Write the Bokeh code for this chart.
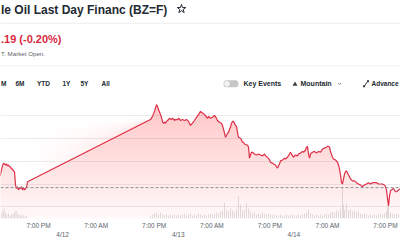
import numpy as np
from bokeh.plotting import figure
from bokeh.models import Range1d, LinearAxis, FixedTicker, Span, Label, Grid
from bokeh.embed import file_html
from bokeh.resources import INLINE

# ---- data (hours since 4/11 00:00) ----
fri_hours = [11.00, 11.32, 11.53, 11.74, 11.95, 12.15, 12.36, 12.57, 12.78, 12.98, 13.19, 13.40, 13.61, 13.81,
             14.02, 14.23, 14.43, 14.64, 14.85, 15.06, 15.27, 15.47, 15.68, 15.89, 16.10, 16.30, 16.51, 16.72]
fri_price = [90.67, 90.81, 90.90, 90.96, 90.94, 90.92, 90.94, 90.90, 90.92, 90.88, 90.88, 90.83, 90.83, 90.79,
             90.77, 90.48, 90.40, 90.44, 90.37, 90.42, 90.40, 90.44, 90.37, 90.42, 90.37, 90.40, 90.42, 90.55]

sun_hours = [42.24, 42.66, 43.07, 43.49, 43.69, 43.90, 44.32, 44.52, 44.73, 44.94, 45.15, 45.35, 45.56, 45.77,
             45.98, 46.18, 46.60, 46.81, 47.22, 47.43, 47.84, 48.05, 48.47, 48.88, 49.30, 49.71, 50.13, 50.33,
             50.54, 50.96, 51.37, 51.79, 52.20, 52.62, 52.83, 53.24, 53.65, 53.86, 54.07, 54.28, 54.69, 55.11,
             55.52, 55.73, 56.14, 56.56, 56.97, 57.18, 57.60, 57.81, 58.01, 58.22, 58.43, 58.64, 58.84, 59.05,
             59.26, 59.46, 59.67, 59.88, 60.09, 60.29, 60.50, 60.92, 61.12, 61.33, 61.54, 61.75, 62.16, 62.37,
             62.58, 62.78, 62.99, 63.20, 63.41, 63.82, 64.24, 64.65, 65.07, 65.48, 65.90, 66.11, 66.52, 66.94,
             67.14, 67.56, 67.77, 68.18, 68.39, 68.60, 68.80, 69.01, 69.22, 69.63, 70.05, 70.26, 70.67, 71.09,
             71.29, 71.50, 71.92, 72.33, 72.75, 72.95, 73.37, 73.78, 73.99, 74.41, 74.61, 74.82, 75.03, 75.24,
             75.44, 75.86, 76.27, 76.69, 77.10, 77.52, 77.93, 78.35, 78.76, 78.97, 79.18, 79.39, 79.59, 80.01,
             80.22, 80.63, 81.05, 81.25, 81.46, 81.67, 81.88, 82.08, 82.29, 82.50, 82.71, 82.91, 83.12, 83.33,
             83.54, 83.74, 84.16, 84.57, 84.99, 85.40, 85.82, 86.23, 86.65, 87.06, 87.48, 87.89, 88.31, 88.72,
             89.14, 89.55, 89.97, 90.38, 90.80, 91.01, 91.21, 91.42, 91.63, 91.84, 92.04, 92.25, 92.67, 93.08,
             93.29, 93.70, 94.12]
sun_price = [91.92, 91.99, 92.10, 92.25, 92.21, 92.14, 92.03, 91.97, 91.88, 91.84, 91.86, 91.84, 91.88, 91.90,
             91.92, 91.95, 91.92, 91.95, 91.90, 91.92, 91.92, 91.95, 91.90, 91.92, 91.90, 91.92, 91.88, 91.84,
             91.79, 91.84, 91.90, 91.97, 92.03, 92.10, 92.08, 92.05, 92.01, 91.97, 91.95, 91.99, 91.95, 91.97,
             92.01, 91.99, 91.90, 91.86, 91.84, 91.79, 91.62, 91.53, 91.57, 91.62, 91.64, 91.71, 91.75, 91.84,
             91.88, 91.88, 91.84, 91.79, 91.77, 91.64, 91.53, 91.51, 91.47, 91.42, 91.42, 91.38, 91.36, 91.36,
             91.31, 91.07, 91.14, 91.20, 91.20, 91.16, 91.14, 91.16, 91.14, 91.12, 91.16, 91.12, 91.09, 91.03,
             90.98, 90.96, 90.94, 90.92, 90.88, 90.85, 90.90, 90.94, 91.01, 91.03, 91.07, 91.05, 91.09, 91.16,
             91.20, 91.16, 91.09, 91.14, 91.12, 91.16, 91.18, 91.22, 91.20, 91.25, 91.31, 91.33, 91.16, 91.07,
             91.16, 91.20, 91.22, 91.18, 91.22, 91.20, 91.27, 91.29, 91.31, 91.33, 91.33, 91.31, 91.22, 91.09,
             91.05, 91.03, 90.98, 90.92, 90.83, 90.70, 90.53, 90.50, 90.61, 90.72, 90.77, 90.79, 90.74, 90.70,
             90.66, 90.61, 90.57, 90.57, 90.53, 90.50, 90.48, 90.44, 90.48, 90.50, 90.53, 90.50, 90.53, 90.53,
             90.53, 90.50, 90.50, 90.50, 90.48, 90.44, 90.37, 90.18, 90.02, 90.24, 90.35, 90.37, 90.40, 90.33,
             90.33, 90.37, 90.40]

vol_hours = [11.32, 11.63, 11.84, 12.15, 12.46, 12.78, 13.09, 13.40, 13.71, 14.02, 14.33, 14.64, 14.95, 15.27,
             15.58, 15.89, 16.20, 16.51,
             42.24, 42.66, 43.07, 43.49, 43.90, 44.32, 44.73, 45.15, 45.56, 45.98, 46.39, 46.81, 47.22, 47.64,
             48.05, 48.47, 48.88, 49.30, 49.71, 50.13, 50.54, 50.96, 51.37, 51.79, 52.20, 52.62, 53.03, 53.45,
             53.86, 54.28, 54.69, 55.11, 55.52, 55.94, 56.35, 56.76, 57.18, 57.60, 58.01, 58.43, 58.84, 59.26,
             59.67, 60.09, 60.50, 60.92, 61.33, 61.75, 62.16, 62.58, 62.99, 63.41, 63.82, 64.24, 64.65, 65.07,
             65.48, 65.90, 66.31, 66.73, 67.14, 67.56, 67.97, 68.39, 68.80, 69.22, 69.63, 70.05, 70.46, 70.88,
             71.29, 71.71, 72.12, 72.54, 72.95, 73.37, 73.78, 74.20, 74.61, 75.03, 75.44, 75.86, 76.27, 76.69,
             77.10, 77.52, 77.93, 78.35, 78.76, 79.18, 79.59, 80.01, 80.42, 80.84, 81.25, 81.67, 82.08, 82.29,
             82.50, 82.91, 83.33, 83.74, 84.16, 84.57, 84.99, 85.40, 85.82, 86.23, 86.65, 87.06, 87.48, 87.89,
             88.31, 88.72, 89.14, 89.55, 89.97, 90.38, 90.80, 91.21, 91.42, 91.63, 92.04, 92.46, 92.87, 93.29,
             93.70, 94.12]
vol_values = [100, 160, 200, 120, 80, 100, 60, 80, 100, 120, 160, 100, 80, 60,
              80, 60, 40, 60,
              60, 80, 100, 120, 80, 120, 80, 60, 80, 60, 80, 60, 80, 60,
              80, 60, 80, 100, 60, 80, 100, 60, 80, 60, 100, 80, 60, 80,
              60, 80, 100, 80, 100, 120, 100, 140, 160, 320, 180, 140, 200, 160,
              140, 180, 440, 280, 160, 180, 320, 200, 140, 100, 120, 80, 100, 80,
              120, 100, 80, 100, 80, 60, 80, 60, 60, 80, 60, 60, 80, 60,
              60, 80, 60, 60, 80, 60, 80, 100, 120, 180, 100, 80, 60, 80,
              60, 80, 60, 80, 100, 80, 120, 140, 120, 160, 140, 200, 640, 280,
              180, 300, 160, 180, 140, 160, 120, 140, 100, 80, 100, 80, 60, 80,
              60, 80, 60, 80, 100, 80, 100, 140, 240, 360, 120, 100, 80, 100,
              80, 60]

prev_close = 90.42
grid_prices = [90.0, 90.5, 91.0, 91.5, 92.0]
time_ticks = [19, 31, 43, 55, 67, 79, 91]
time_labels = ["7:00 PM", "7:00 AM", "7:00 PM", "7:00 AM", "7:00 PM", "7:00 AM", "7:00 PM"]
date_ticks = [24, 48, 72]
date_labels = ["4/12", "4/13", "4/14"]

title_text = "le Oil Last Day Financ (BZ=F)"
price_text = ".19 (-0.20%)"
status_text = "T. Market Open."
range_buttons = ["M", "6M", "YTD", "1Y", "5Y", "All"]

# ---- styling / layout ----
W, H = 400, 240
FRAME_H = 220
PX_PER_UNIT = 45.8
Y_HI = 92.0 + 116.5 / PX_PER_UNIT
Y_LO = Y_HI - FRAME_H / PX_PER_UNIT
RED = "#dc2f47"
FONT = "Liberation Sans"
DARK = "#232a31"
GRAY = "#5b636a"

hours = np.array(fri_hours + sun_hours)
price = np.array(fri_price + sun_price)

p = figure(width=W, height=H, output_backend="svg", toolbar_location=None,
           x_range=Range1d(11.115, 94.12), y_range=Range1d(Y_LO, Y_HI),
           x_axis_type=None, y_axis_type=None, min_border=0,
           outline_line_color=None, background_fill_color="white")
p.extra_x_ranges = {"px": Range1d(0, W)}
p.extra_y_ranges = {"px": Range1d(FRAME_H, 0), "vol": Range1d(0, 20 * FRAME_H)}

p.add_layout(Grid(dimension=1, ticker=FixedTicker(ticks=grid_prices),
                  grid_line_color="#ececec", grid_line_width=1))

# volume
p.vbar(x=vol_hours, top=vol_values, width=0.2, y_range_name="vol",
       fill_color="#dadada", line_color=None, fill_alpha=0.9)

# gradient fill (stacked translucent layers)
levels = np.arange(89.5, 92.31, 0.1)
for lv in levels:
    p.varea(x=hours, y1=np.full(len(hours), lv), y2=np.maximum(price, lv),
            fill_color=RED, fill_alpha=0.0102)

p.add_layout(Span(location=prev_close, dimension="width", line_color="#8a8f94",
                  line_dash="3 2", line_width=1))

p.line(hours, price, line_color=RED, line_width=1.2)

# x axes
ax1 = LinearAxis(ticker=FixedTicker(ticks=time_ticks),
                 major_label_overrides={t: l for t, l in zip(time_ticks, time_labels)})
ax2 = LinearAxis(ticker=FixedTicker(ticks=date_ticks),
                 major_label_overrides={t: l for t, l in zip(date_ticks, date_labels)})
for ax, so in ((ax1, 3), (ax2, -1)):
    ax.axis_line_color = None
    ax.major_tick_line_color = None
    ax.minor_tick_line_color = None
    ax.major_tick_in = 0
    ax.major_tick_out = 0
    ax.major_label_standoff = so
    ax.major_label_text_font = FONT
    ax.major_label_text_font_size = "6.5px"
    ax.major_label_text_color = GRAY
    p.add_layout(ax, "below")

# header
def lab(x, y, text, size, color=DARK, style="normal", align="left"):
    p.add_layout(Label(x=x, y=y, text=text, x_range_name="px", y_range_name="px",
                       text_font=FONT, text_font_size=size, text_color=color,
                       text_font_style=style, text_baseline="middle", text_align=align))

for yy in (23, 66):
    p.segment(x0=[0], y0=[yy], x1=[W], y1=[yy], x_range_name="px", y_range_name="px",
              line_color="#eeeeee", line_width=1)

lab(0.5, 9.5, title_text, "12px", style="bold")
p.scatter(x=[181], y=[8.5], marker="star", size=9, fill_color=None, line_color=DARK,
          line_width=1, x_range_name="px", y_range_name="px")
lab(0.5, 39, price_text, "11px", color="#d8283e", style="bold")
lab(0.5, 53, status_text, "6.2px", color=GRAY)

for x, t in zip([0.5, 15, 36.5, 62, 80, 101], range_buttons):
    lab(x, 84, t, "6.5px", style="bold")

# toggle
p.segment(x0=[226.5], y0=[84], x1=[234.5], y1=[84], line_width=7, line_cap="round",
          line_color="#c6c6c6", x_range_name="px", y_range_name="px")
p.scatter(x=[226.5], y=[84], size=5.5, fill_color="#f2f2f2", line_color=None,
          x_range_name="px", y_range_name="px")
lab(243, 84, "Key Events", "7px", style="bold")

# mountain icon + chevron
p.scatter(x=[294.5], y=[84.6], marker="triangle", size=5, fill_color="#3a3f44", line_color=None,
          x_range_name="px", y_range_name="px")
lab(300, 84, "Mountain", "7px", style="bold")
p.line(x=[337.5, 339, 340.5], y=[83.2, 84.7, 83.2], line_color="#6b7076", line_width=0.8,
       x_range_name="px", y_range_name="px")

# expand icon
p.segment(x0=[363.5], y0=[87], x1=[367.5], y1=[81], line_color="#3a3f44", line_width=1,
          x_range_name="px", y_range_name="px")
p.scatter(x=[363.5, 367.5], y=[86.6, 81.4], marker="square", size=2, fill_color="#3a3f44",
          line_color=None, x_range_name="px", y_range_name="px")
lab(371, 84, "Advance", "6.5px", style="bold")

open("out.html", "w").write(file_html(p, INLINE))
